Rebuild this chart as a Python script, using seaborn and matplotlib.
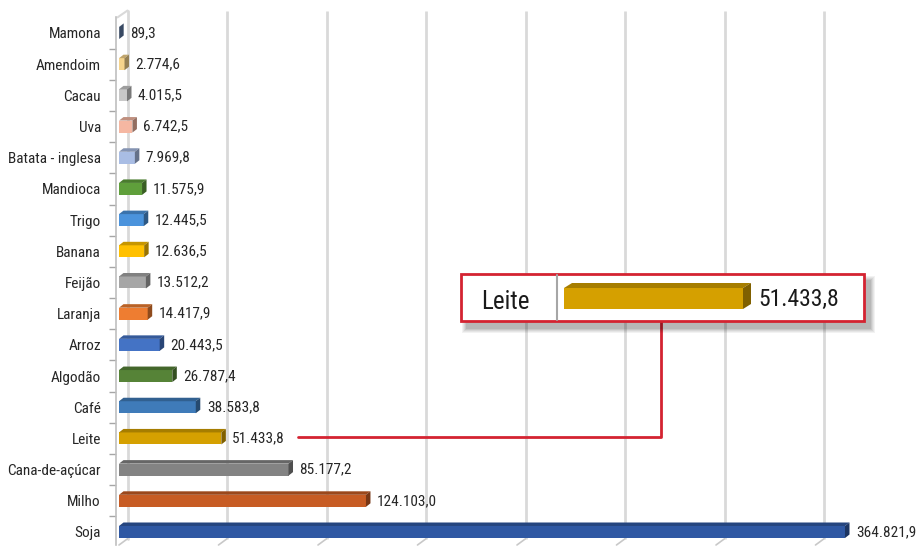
import matplotlib
matplotlib.use("Agg")
import matplotlib.pyplot as plt
from matplotlib.patches import Polygon, Rectangle
from matplotlib.lines import Line2D
import numpy as np
import pandas as pd
import seaborn as sns

# Produção agrícola por cultura
categorias = ["Mamona", "Amendoim", "Cacau", "Uva", "Batata - inglesa", "Mandioca",
              "Trigo", "Banana", "Feijão", "Laranja", "Arroz", "Algodão", "Café",
              "Leite", "Cana-de-açúcar", "Milho", "Soja"]
valores = [89.3, 2774.6, 4015.5, 6742.5, 7969.8, 11575.9, 12445.5, 12636.5,
           13512.2, 14417.9, 20443.5, 26787.4, 38583.8, 51433.8, 85177.2,
           124103.0, 364821.9]
cores = ["#5b78a3", "#f6d48c", "#c9c9c9", "#f5b7a2", "#a9bde4", "#5f9f3b",
         "#4b93dc", "#ffc000", "#a6a6a6", "#ee7d31", "#4473c5", "#568337",
         "#3f7bb9", "#d5a000", "#838383", "#c75c24", "#2f58a3"]
destaque = "Leite"

W, H, DPI = 916, 547, 100
FONT = ["Liberation Sans Narrow", "Roboto Condensed", "DejaVu Sans"]

sns.set_theme(style="white")
plt.rcParams["font.family"] = FONT
plt.rcParams["text.color"] = "#262626"


def fmt_br(v):
    s = f"{v:,.1f}"
    return s.replace(",", "X").replace(".", ",").replace("X", ".")


def shade(c, f):
    r, g, b = matplotlib.colors.to_rgb(c)
    return (r * f, g * f, b * f)


df = pd.DataFrame({"cultura": categorias, "valor": valores})

fig = plt.figure(figsize=(W / DPI, H / DPI), dpi=DPI)
fig.patch.set_facecolor("white")

def fx(px):
    return px / W

def fy(py):
    return 1 - py / H

ax_left, ax_right = 119, 915
ax_top, ax_bot = 17.4, 545
ax = fig.add_axes([fx(ax_left), fy(ax_bot), fx(ax_right) - fx(ax_left), fy(ax_top) - fy(ax_bot)])

sns.barplot(data=df, x="valor", y="cultura", hue="cultura", palette=cores,
            order=categorias, hue_order=categorias, orient="h", width=0.385,
            saturation=1, legend=False, ax=ax, edgecolor="none", linewidth=0, zorder=3)

xmax = 400000
nb = len(categorias)
ax.set_xlim(0, xmax)
ax.set_ylim(nb - 1 + 0.417, -0.5)

px_x = xmax / (ax_right - ax_left)          # data units per pixel (x)
px_y = (nb - 0.083) / (ax_bot - ax_top)     # data units per pixel (y)

# 3D faces on each bar
dxp, dyp = 4.5, 3.5
for p in list(ax.patches):
    x0 = p.get_x()
    w = p.get_width()
    y0 = p.get_y()
    h = p.get_height()
    x1 = x0 + w
    ytop, ybot = y0, y0 + h
    fc = p.get_facecolor()
    ddx, ddy = dxp * px_x, dyp * px_y
    top = Polygon([(x0, ytop), (x0 + ddx, ytop - ddy), (x1 + ddx, ytop - ddy), (x1, ytop)],
                  closed=True, facecolor=shade(fc, 0.78), edgecolor="none", zorder=3)
    side = Polygon([(x1, ytop), (x1 + ddx, ytop - ddy), (x1 + ddx, ybot - ddy), (x1, ybot)],
                   closed=True, facecolor=shade(fc, 0.6), edgecolor="none", zorder=3)
    ax.add_patch(top)
    ax.add_patch(side)

# value labels
for i, v in enumerate(valores):
    ax.annotate(fmt_br(v), xy=(v, i), xytext=(11, 0), textcoords="offset pixels",
                va="center", ha="left", fontsize=11, color="#262626", zorder=5)

# back-plane gridlines
back = 8.5
floor = nb - 1 + 0.417
for g in range(50000, xmax, 50000):
    xg = g + back * px_x
    ax.plot([xg, xg], [floor - 0.2, -0.5 - 0.22], color="#d9d9d9",
            lw=2.0, zorder=1, clip_on=False, solid_capstyle="butt")
    ax.plot([g, xg], [floor, floor - 0.2], color="#c8c8c8", lw=1.2, zorder=1, clip_on=False)

# back wall of the left axis
xb = back * px_x
ax.plot([xb, xb], [floor - 0.2, -0.5 - 0.22], color="#d9d9d9", lw=2.0, zorder=1, clip_on=False)
ax.plot([-1.5 * px_x, xb], [-0.5, -0.5 - 0.22], color="#d9d9d9", lw=1.5, zorder=1, clip_on=False)
ax.plot([0, xb], [floor, floor - 0.2], color="#c8c8c8", lw=1.2, zorder=1, clip_on=False)

for s in ["top", "right", "bottom"]:
    ax.spines[s].set_visible(False)
ax.spines["left"].set_color("#bfbfbf")
ax.spines["left"].set_linewidth(1.2)
ax.spines["left"].set_position(("outward", 2))

ax.set_xlabel("")
ax.set_ylabel("")
ax.set_xticks([])
ax.set_yticks(range(nb))
ax.set_yticklabels(categorias, fontsize=11, color="#262626")
ax.set_yticks(np.arange(-0.5, nb - 0.5, 1.0)[1:], minor=True)
ax.tick_params(axis="y", which="major", length=0, pad=11)
ax.tick_params(axis="y", which="minor", length=5, width=1, color="#a6a6a6", left=True)
ax.set_facecolor("white")

# callout box
bx0, bx1, by0, by1 = 461, 864, 274, 321
for k, a in enumerate([0.05, 0.05, 0.06, 0.07, 0.08]):
    grow = 5 - k
    fig.patches.append(Rectangle((fx(bx0 + 6 - grow), fy(by1 + 7 + grow)),
                                 fx(bx1 - bx0 + 2 * grow), fy(0) - fy(by1 - by0 + 2 * grow),
                                 transform=fig.transFigure, facecolor="black", alpha=a,
                                 edgecolor="none", zorder=6))
fig.patches.append(Rectangle((fx(bx0), fy(by1)), fx(bx1 - bx0), fy(0) - fy(by1 - by0),
                             transform=fig.transFigure, facecolor="white",
                             edgecolor="#d42331", linewidth=2, zorder=7))
fig.lines.append(Line2D([fx(557), fx(557)], [fy(by0 + 1), fy(by1 - 1)], transform=fig.transFigure,
                        color="#a6a6a6", lw=1.5, zorder=8))

idx = categorias.index(destaque)
val = valores[idx]
fig.text(fx(505), fy(302), destaque, ha="center", va="center", fontsize=18,
         color="#1a1a1a", zorder=9)

# enlarged bar inside the callout
ix0, ix1 = 564, 760
ih = by1 - by0 - 2
iax = fig.add_axes([fx(ix0), fy(by1 - 1), fx(ix1 - ix0), fy(0) - fy(ih)], zorder=9)
iax.patch.set_alpha(0)
sns.barplot(x=[val], y=[destaque], color=cores[idx], orient="h", width=21 / ih,
            saturation=1, ax=iax, edgecolor="none", linewidth=0)
iax.set_xlim(0, val * (ix1 - ix0) / 179)
iax.set_ylim(0.5 - 1.0 / ih, -0.5 - 1.0 / ih)
ipx = val / 179
ipy = 1.0 / ih
for p in list(iax.patches):
    x0, w, y0, h = p.get_x(), p.get_width(), p.get_y(), p.get_height()
    x1 = x0 + w
    ddx, ddy = 8 * ipx, 5 * ipy
    iax.add_patch(Polygon([(x0, y0), (x0 + ddx, y0 - ddy), (x1 + ddx, y0 - ddy), (x1, y0)],
                          facecolor=shade(cores[idx], 0.78), edgecolor="none"))
    iax.add_patch(Polygon([(x1, y0), (x1 + ddx, y0 - ddy), (x1 + ddx, y0 + h - ddy), (x1, y0 + h)],
                          facecolor=shade(cores[idx], 0.6), edgecolor="none"))
iax.axis("off")
fig.text(fx(799), fy(299), fmt_br(val), ha="center", va="center", fontsize=17,
         color="#1a1a1a", zorder=9)

# connector from the highlighted bar to the callout
fig.lines.append(Line2D([fx(298), fx(661), fx(661)], [fy(437), fy(437), fy(by1 + 1)],
                        transform=fig.transFigure, color="#d42331", lw=2, zorder=6))

fig.savefig("out.png", dpi=DPI, facecolor="white")
